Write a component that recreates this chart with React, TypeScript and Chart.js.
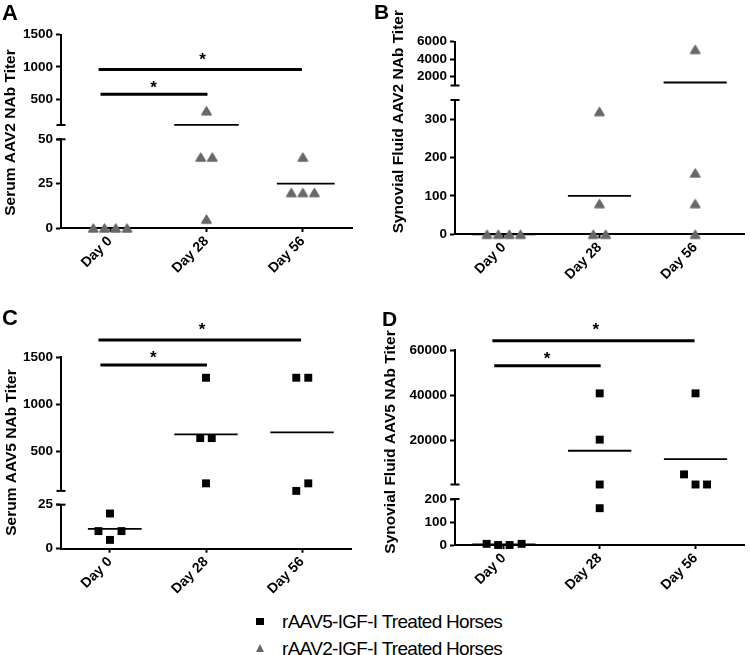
import React, { useEffect, useRef } from 'react';
import { Chart, registerables } from 'chart.js';

Chart.register(...registerables);

const FONT = '"Liberation Sans", Arial, Helvetica, sans-serif';

// ---------- data ----------
const days = ['Day 0', 'Day 28', 'Day 56'];

// A: Serum AAV2 NAb titer (rAAV2 treated horses)
const aValues = [[0, 0, 0, 0], [320, 40, 40, 5], [40, 20, 20, 20]];
const aMeans = [0, 101.25, 25];
const aLowerRange = [0, 50];
const aUpperRange = [100, 1500];
const aLowerTicks = [0, 25, 50];
const aUpperTicks = [500, 1000, 1500];
const aSigY = [575, 960];
const aStarY = [740, 1180];

// B: Synovial fluid AAV2 NAb titer
const bValues = [[0, 0, 0, 0], [320, 80, 0, 0], [5120, 160, 80, 0]];
const bMeans = [0, 100, 1340];
const bLowerRange = [0, 350];
const bUpperRange = [1000, 6000];
const bLowerTicks = [0, 100, 200, 300];
const bUpperTicks = [2000, 4000, 6000];
const bSigY: number[] = [];
const bStarY: number[] = [];

// C: Serum AAV5 NAb titer (rAAV5 treated horses)
const cValues = [[20, 10, 10, 5], [1280, 640, 640, 160], [1280, 1280, 160, 80]];
const cMeans = [11.25, 680, 700];
const cLowerRange = [0, 25];
const cUpperRange = [80, 1500];
const cLowerTicks = [0, 25];
const cUpperTicks = [500, 1000, 1500];
const cSigY = [1415, 1680];
const cStarY = [1532, 1829];

// D: Synovial fluid AAV5 NAb titer
const dValues = [[5, 0, 0, 5], [40960, 20480, 640, 160], [40960, 5120, 640, 640]];
const dMeans = [2.5, 15560, 11840];
const dLowerRange = [0, 200];
const dUpperRange = [640, 60000];
const dLowerTicks = [0, 100, 200];
const dUpperTicks = [20000, 40000, 60000];
const dSigY = [53200, 64250];
const dStarY = [58230, 70750];

const legendLabels = ['rAAV5-IGF-I Treated Horses', 'rAAV2-IGF-I Treated Horses'];

// ---------- layout (positions in category units / pixels) ----------
const aJitter = [[-0.175, -0.058, 0.058, 0.175], [0, -0.06, 0.06, 0], [0, -0.12, 0, 0.12]];
const bJitter = [[-0.175, -0.058, 0.058, 0.175], [0, 0, -0.065, 0.065], [0, 0, 0, 0]];
const cJitter = [[0, -0.12, 0.12, 0], [0, -0.06, 0.06, 0], [-0.06, 0.065, 0.065, -0.06]];
const dJitter = [[-0.18, -0.06, 0.06, 0.185], [0, 0, 0, 0], [0, -0.12, 0, 0.12]];
const aMeanSpan = [[-0.33, 0.33], [-0.335, 0.335], [-0.27, 0.33]];
const stdMeanSpan = [[-0.33, 0.33], [-0.33, 0.33], [-0.33, 0.33]];
const cMeanSpan = [[-0.23, 0.33], [-0.33, 0.33], [-0.33, 0.33]];
const sigFrom = [-0.1, -0.12];
const sigTo = [1.01, 1.99];
const starX = [0.45, 0.96];

const TRI_COLOR = '#686868';
const XH = 50;

type Box = { x: number; y: number; w: number; h: number };
type Area = { left: number; right: number; upperTop: number; upperBottom: number; lowerTop: number; lowerBottom: number };
type PanelCfg = {
  letter: string; title: string; marker: 'tri' | 'sq';
  values: number[][]; jitter: number[][]; means: number[]; meanSpan: number[][];
  lowerRange: number[]; upperRange: number[]; lowerTicks: number[]; upperTicks: number[];
  sigY: number[]; starY: number[];
  box: Box; area: Area; titlePos: { x: number; y: number }; letterPos: { x: number; y: number; size: number };
};

const panels: PanelCfg[] = [
  {
    letter: 'A', title: 'Serum AAV2 NAb Titer', marker: 'tri',
    values: aValues, jitter: aJitter, means: aMeans, meanSpan: aMeanSpan,
    lowerRange: aLowerRange, upperRange: aUpperRange, lowerTicks: aLowerTicks, upperTicks: aUpperTicks,
    sigY: aSigY, starY: aStarY,
    box: { x: 0, y: 0, w: 375, h: 290 },
    area: { left: 61, right: 352, upperTop: 34.5, upperBottom: 125, lowerTop: 139.3, lowerBottom: 228 },
    titlePos: { x: 15, y: 132.5 }, letterPos: { x: 2, y: 20, size: 22 },
  },
  {
    letter: 'B', title: 'Synovial Fluid AAV2 NAb Titer', marker: 'tri',
    values: bValues, jitter: bJitter, means: bMeans, meanSpan: stdMeanSpan,
    lowerRange: bLowerRange, upperRange: bUpperRange, lowerTicks: bLowerTicks, upperTicks: bUpperTicks,
    sigY: bSigY, starY: bStarY,
    box: { x: 375, y: 0, w: 375, h: 290 },
    area: { left: 455, right: 746.7, upperTop: 41.7, upperBottom: 85.5, lowerTop: 100, lowerBottom: 234.3 },
    titlePos: { x: 403.4, y: 121.7 }, letterPos: { x: 374, y: 18.5, size: 21 },
  },
  {
    letter: 'C', title: 'Serum AAV5 NAb Titer', marker: 'sq',
    values: cValues, jitter: cJitter, means: cMeans, meanSpan: cMeanSpan,
    lowerRange: cLowerRange, upperRange: cUpperRange, lowerTicks: cLowerTicks, upperTicks: cUpperTicks,
    sigY: cSigY, starY: cStarY,
    box: { x: 0, y: 290, w: 375, h: 320 },
    area: { left: 61, right: 351, upperTop: 357, upperBottom: 490.9, lowerTop: 504.7, lowerBottom: 548.7 },
    titlePos: { x: 16, y: 452.5 }, letterPos: { x: 2, y: 325, size: 22 },
  },
  {
    letter: 'D', title: 'Synovial Fluid AAV5 NAb Titer', marker: 'sq',
    values: dValues, jitter: dJitter, means: dMeans, meanSpan: stdMeanSpan,
    lowerRange: dLowerRange, upperRange: dUpperRange, lowerTicks: dLowerTicks, upperTicks: dUpperTicks,
    sigY: dSigY, starY: dStarY,
    box: { x: 375, y: 290, w: 375, h: 320 },
    area: { left: 455, right: 746.7, upperTop: 350.3, upperBottom: 484.5, lowerTop: 499, lowerBottom: 545 },
    titlePos: { x: 395, y: 442 }, letterPos: { x: 382, y: 326, size: 21 },
  },
];

let triImg: HTMLCanvasElement | null = null;
function triangleImage(): HTMLCanvasElement {
  if (triImg) return triImg;
  const w = 10.7, h = 9.3;
  const c = document.createElement('canvas');
  c.width = 13; c.height = 12;
  const ctx = c.getContext('2d')!;
  ctx.fillStyle = TRI_COLOR; ctx.strokeStyle = TRI_COLOR;
  ctx.lineJoin = 'round'; ctx.lineWidth = 1.4;
  const cx = c.width / 2, cy = c.height / 2;
  ctx.beginPath();
  ctx.moveTo(cx, cy - h / 2 + 0.7);
  ctx.lineTo(cx + w / 2 - 0.7, cy + h / 2 - 0.7);
  ctx.lineTo(cx - w / 2 + 0.7, cy + h / 2 - 0.7);
  ctx.closePath();
  ctx.fill(); ctx.stroke();
  triImg = c;
  return c;
}

function buildConfig(cfg: PanelCfg, part: 'upper' | 'lower'): any {
  const isUpper = part === 'upper';
  const range = isUpper ? cfg.upperRange : cfg.lowerRange;
  const tickVals = isUpper ? cfg.upperTicks : cfg.lowerTicks;
  const split = cfg.upperRange[0];
  const inPart = (v: number) => (isUpper ? v >= split : v < split);
  const { box, area } = cfg;

  const pts: { x: number; y: number }[] = [];
  cfg.values.forEach((arr, i) => arr.forEach((v, j) => {
    if (inPart(v)) pts.push({ x: i + cfg.jitter[i][j], y: v });
  }));

  const datasets: any[] = [];
  cfg.means.forEach((m, i) => {
    if (!inPart(m)) return;
    datasets.push({
      type: 'line', data: [{ x: i + cfg.meanSpan[i][0], y: m }, { x: i + cfg.meanSpan[i][1], y: m }],
      borderColor: '#000', borderWidth: 1.8, pointRadius: 0, clip: false, order: 2,
    });
  });
  if (isUpper) {
    cfg.sigY.forEach((y, k) => {
      datasets.push({
        type: 'line', data: [{ x: sigFrom[k], y }, { x: sigTo[k], y }],
        borderColor: '#000', borderWidth: 3, pointRadius: 0, clip: false, order: 2,
      });
    });
  }
  datasets.push({
    type: 'scatter', data: pts,
    pointStyle: cfg.marker === 'tri' ? triangleImage() : 'rect',
    pointRadius: cfg.marker === 'tri' ? 6 : 5.6,
    pointBorderWidth: 0,
    pointBackgroundColor: cfg.marker === 'tri' ? TRI_COLOR : '#000',
    clip: false, order: 1,
  });

  const top = isUpper ? area.upperTop : area.lowerTop;
  const bottom = isUpper ? area.upperBottom : area.lowerBottom;
  const yw = area.left - box.x;
  const yFont = { family: FONT, size: 13.5, weight: 'bold' as const };
  const xFont = { family: FONT, size: 14, weight: 'bold' as const };

  const plugin = {
    id: 'panelDecor' + part,
    afterDraw(chart: any) {
      const ctx = chart.ctx as CanvasRenderingContext2D;
      const ca = chart.chartArea;
      ctx.save();
      // axis break mark
      ctx.strokeStyle = '#000'; ctx.lineWidth = 2;
      const by = isUpper ? ca.bottom : ca.top;
      ctx.beginPath(); ctx.moveTo(ca.left - 4.5, by); ctx.lineTo(ca.left + 4.5, by); ctx.stroke();
      ctx.fillStyle = '#000';
      if (isUpper) {
        const xs = chart.scales.x, ys = chart.scales.y;
        ctx.font = `bold 17px ${FONT}`;
        ctx.textAlign = 'center'; ctx.textBaseline = 'alphabetic';
        cfg.starY.forEach((sy, k) => {
          ctx.fillText('*', xs.getPixelForValue(starX[k]), ys.getPixelForValue(sy) + 9.5);
        });
      } else {
        // panel letter
        ctx.font = `bold ${cfg.letterPos.size}px ${FONT}`;
        ctx.textAlign = 'left'; ctx.textBaseline = 'alphabetic';
        ctx.fillText(cfg.letter, cfg.letterPos.x - box.x, cfg.letterPos.y - box.y);
        // y-axis title across both segments
        ctx.translate(cfg.titlePos.x - box.x, cfg.titlePos.y - box.y);
        ctx.rotate(-Math.PI / 2);
        ctx.font = `bold 15.5px ${FONT}`;
        ctx.textAlign = 'center';
        ctx.fillText(cfg.title, 0, 0);
      }
      ctx.restore();
    },
  };

  return {
    data: { datasets },
    options: {
      animation: false, responsive: true, maintainAspectRatio: false, events: [],
      layout: {
        padding: {
          left: 0,
          right: box.x + box.w - area.right,
          top: top - box.y,
          bottom: box.y + box.h - bottom - (isUpper ? 0 : XH),
        },
      },
      plugins: { legend: { display: false }, tooltip: { enabled: false }, title: { display: false } },
      scales: {
        x: {
          type: 'linear', display: !isUpper, min: -0.51, max: 2.51,
          afterBuildTicks: (s: any) => { s.ticks = [0, 1, 2].map((v) => ({ value: v })); },
          afterFit: (s: any) => { s.height = isUpper ? 0 : XH; },
          grid: { display: true, drawOnChartArea: false, drawTicks: true, tickLength: 4, tickColor: '#000', tickWidth: 2 },
          border: { display: true, color: '#000', width: 2 },
          ticks: {
            autoSkip: false, maxRotation: 45, minRotation: 45, color: '#000', font: xFont, padding: 1,
            callback: (v: any) => days[v] ?? '',
          },
        },
        y: {
          type: 'linear', min: range[0], max: range[1],
          afterBuildTicks: (s: any) => { s.ticks = tickVals.map((v) => ({ value: v })); },
          afterFit: (s: any) => { s.width = yw; },
          grid: { display: true, drawOnChartArea: false, drawTicks: true, tickLength: 5, tickColor: '#000', tickWidth: 2 },
          border: { display: true, color: '#000', width: 2 },
          ticks: { color: '#000', font: yFont, padding: 3, callback: (v: any) => String(v) },
        },
      },
    },
    plugins: [plugin],
  };
}

function ChartCanvas({ cfg, part }: { cfg: PanelCfg; part: 'upper' | 'lower' }) {
  const ref = useRef<HTMLCanvasElement>(null);
  useEffect(() => {
    if (!ref.current) return;
    const c = buildConfig(cfg, part);
    const chart = new Chart(ref.current, c);
    return () => chart.destroy();
  }, [cfg, part]);
  return (
    <div style={{ position: 'absolute', left: cfg.box.x, top: cfg.box.y, width: cfg.box.w, height: cfg.box.h }}>
      <canvas ref={ref} />
    </div>
  );
}

export default function App() {
  const legendText: React.CSSProperties = {
    position: 'absolute', left: 282, fontFamily: FONT, fontSize: 19, lineHeight: '19px',
    letterSpacing: '-0.7px', color: '#000', whiteSpace: 'nowrap',
  };
  return (
    <div style={{ position: 'absolute', left: 0, top: 0, width: 750, height: 655, background: '#fff', overflow: 'hidden' }}>
      {panels.map((p) => (
        <React.Fragment key={p.letter}>
          <ChartCanvas cfg={p} part="lower" />
          <ChartCanvas cfg={p} part="upper" />
        </React.Fragment>
      ))}
      <div style={{ position: 'absolute', left: 256.3, top: 617.8, width: 7.5, height: 7.5, background: '#000' }} />
      <div style={{ ...legendText, top: 612.4 }}>{legendLabels[0]}</div>
      <div style={{
        position: 'absolute', left: 256, top: 644, width: 0, height: 0,
        borderLeft: '4px solid transparent', borderRight: '4px solid transparent', borderBottom: `8px solid ${TRI_COLOR}`,
      }} />
      <div style={{ ...legendText, top: 638.9 }}>{legendLabels[1]}</div>
    </div>
  );
}
